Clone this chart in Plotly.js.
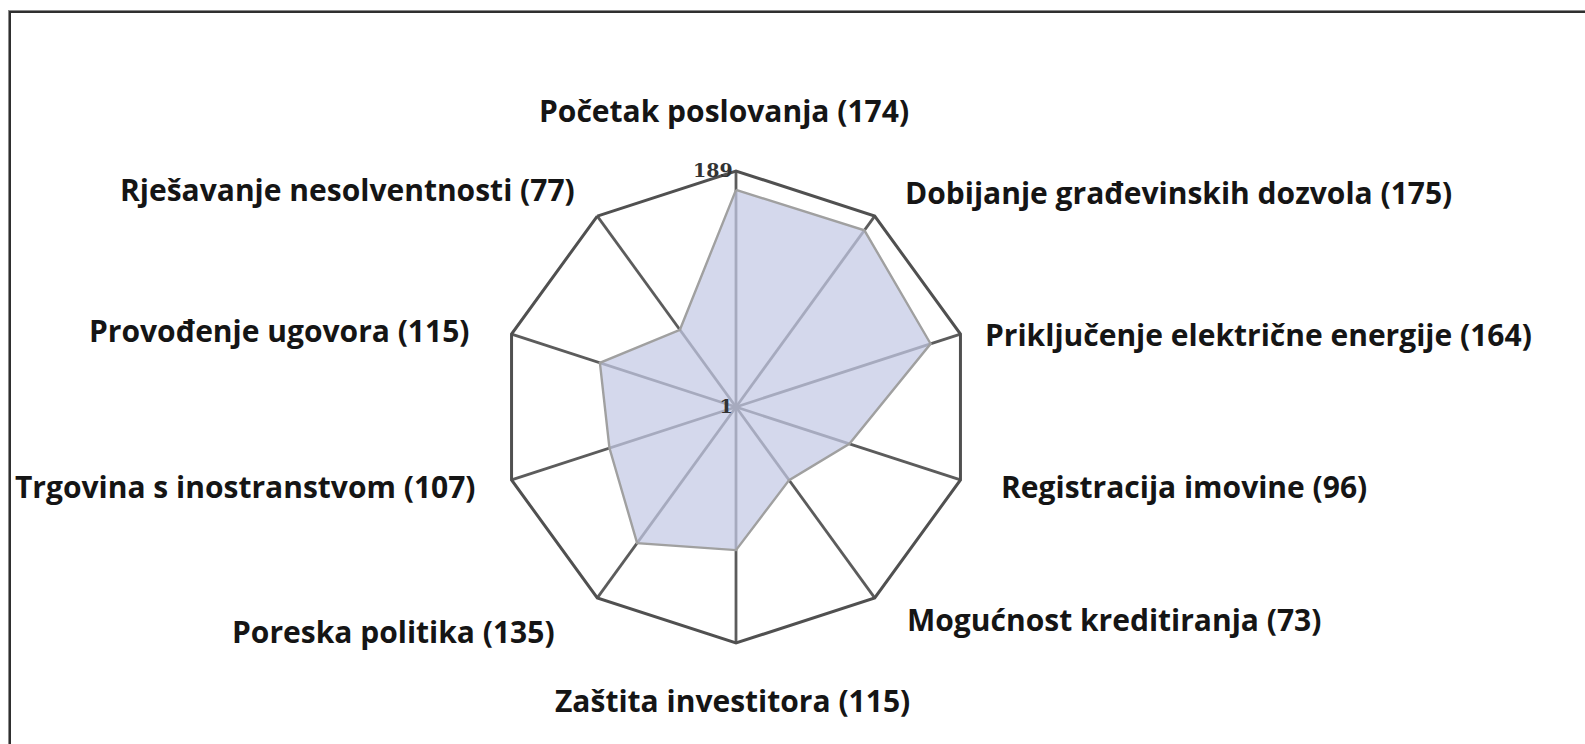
<!DOCTYPE html>
<html>
<head>
<meta charset="utf-8">
<script src="https://cdn.plot.ly/plotly-3.0.1.min.js"></script>
<style>
  html, body { margin: 0; padding: 0; background: #fff; }
  #wrap { position: relative; width: 1585px; height: 744px; overflow: hidden; }
  #frame { position: absolute; left: 8px; top: 10px; width: 1600px; height: 760px;
           border-top: 1px solid #8a8a8a; border-left: 1px solid #8a8a8a; }
  #frame2 { position: absolute; left: 9px; top: 11px; width: 1600px; height: 760px;
           border-top: 2px solid #2f2f2f; border-left: 2px solid #2f2f2f; }
  #chart { position: absolute; left: 0; top: 0; width: 1585px; height: 744px; }
</style>
</head>
<body>
<div id="wrap">
  <div id="chart"></div>
  <div id="frame"></div>
  <div id="frame2"></div>
</div>
<script>
// ---- data ----
const categories = [
  "Početak poslovanja",
  "Dobijanje građevinskih dozvola",
  "Priključenje električne energije",
  "Registracija imovine",
  "Mogućnost kreditiranja",
  "Zaštita investitora",
  "Poreska politika",
  "Trgovina s inostranstvom",
  "Provođenje ugovora",
  "Rješavanje nesolventnosti"
];
const ranks = [174, 175, 164, 96, 73, 115, 135, 107, 115, 77];
const radialTicks = [1, 189];

// ---- label placement (layout only) ----
const W = 1585, H = 744;
const labelPos = [
  {x: 724, y: 111, a: "center"},
  {x: 903, y: 192, a: "left"},
  {x: 983, y: 334, a: "left"},
  {x: 999, y: 486, a: "left"},
  {x: 905, y: 619, a: "left"},
  {x: 732, y: 700, a: "center"},
  {x: 557, y: 631, a: "right"},
  {x: 478, y: 486, a: "right"},
  {x: 471, y: 331, a: "right"},
  {x: 577, y: 189, a: "right"}
];

const theta = categories.concat([categories[0]]);
const r = ranks.concat([ranks[0]]);

const trace = {
  type: "scatterpolar",
  r: r,
  theta: theta,
  mode: "lines",
  fill: "toself",
  fillcolor: "rgba(196,201,228,0.72)",
  line: {color: "#a0a0a0", width: 2.4},
  hoverinfo: "skip"
};

const annotations = categories.map((c, i) => ({
  xref: "paper", yref: "paper",
  x: labelPos[i].x / W, y: 1 - labelPos[i].y / H,
  xanchor: labelPos[i].a, yanchor: "middle",
  text: c + " (" + ranks[i] + ")",
  showarrow: false,
  font: {family: "'Open Sans', sans-serif", size: 30, color: "#151515", weight: 700}
}));

const layout = {
  width: W, height: H,
  margin: {l: 0, r: 0, t: 0, b: 0},
  paper_bgcolor: "#fff",
  showlegend: false,
  polar: {
    domain: {x: [500 / W, 972 / W], y: [1 - 643 / H, 1 - 171 / H]},
    bgcolor: "rgba(0,0,0,0)",
    gridshape: "linear",
    radialaxis: {
      range: [1, 189],
      tickvals: radialTicks,
      ticktext: radialTicks.map(String),
      angle: 90,
      tickangle: 90,
      side: "counterclockwise",
      showline: false,
      ticks: "",
      showgrid: true,
      gridcolor: "#555555",
      gridwidth: 2.5,
      tickfont: {family: "'DejaVu Serif', serif", size: 19, color: "#333", weight: 700}
    },
    angularaxis: {
      direction: "clockwise",
      rotation: 90,
      showticklabels: false,
      ticks: "",
      showline: true,
      linecolor: "#505050",
      linewidth: 3,
      gridcolor: "#5c5c5c",
      gridwidth: 2.8
    }
  },
  annotations: annotations
};

Plotly.newPlot("chart", [trace], layout, {displayModeBar: false, staticPlot: true});
</script>
</body>
</html>
